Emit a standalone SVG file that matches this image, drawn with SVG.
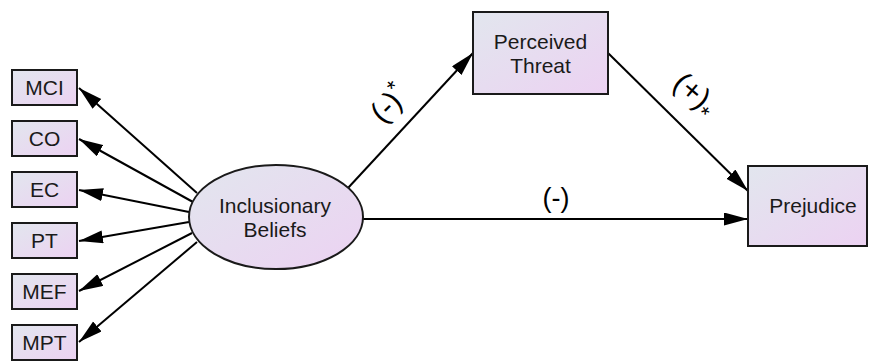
<svg xmlns="http://www.w3.org/2000/svg" width="869" height="361" viewBox="0 0 869 361">
  <style>
    .node { fill: url(#fillGrad); stroke: #1a1a1a; stroke-width: 2; }
    .label { font-family: "Liberation Sans", Arial, sans-serif; font-size: 21px; fill: #1a1a1a; text-anchor: middle; }
    .edge { stroke: #000; stroke-width: 2; fill: none; marker-end: url(#arrow); }
    .coef { font-family: "Liberation Sans", Arial, sans-serif; fill: #000; text-anchor: middle; }
  </style>
  <defs>
    <linearGradient id="fillGrad" x1="0" y1="0" x2="1" y2="1">
      <stop offset="0" stop-color="#e2e6ee"/>
      <stop offset="1" stop-color="#ecd2f2"/>
    </linearGradient>
    <marker id="arrow" markerUnits="userSpaceOnUse" markerWidth="26" markerHeight="14" refX="24" refY="6.5" orient="auto">
      <path d="M0,0 L24,6.5 L0,13 z" fill="#000"/>
    </marker>
  </defs>

  <rect width="869" height="361" fill="#fff"/>

  <!-- connectors -->
  <g id="connectors">
    <line class="edge" x1="197" y1="193" x2="79" y2="88"/>
    <line class="edge" x1="193" y1="202" x2="79" y2="139"/>
    <line class="edge" x1="189" y1="212" x2="79" y2="190"/>
    <line class="edge" x1="189" y1="222" x2="79" y2="241"/>
    <line class="edge" x1="192" y1="233" x2="79" y2="291"/>
    <line class="edge" x1="197" y1="242" x2="79" y2="342"/>
    <line class="edge" x1="348" y1="188" x2="473" y2="53"/>
    <line class="edge" x1="608" y1="53" x2="748" y2="191"/>
    <line class="edge" x1="363" y1="219" x2="748" y2="219"/>
  </g>

  <!-- path coefficients -->
  <g id="coefficients">
    <text class="coef" font-size="30" transform="translate(396,111) rotate(-45)">(-)<tspan font-size="22" dy="-11">*</tspan></text>
    <text class="coef" font-size="30" transform="translate(689,101) rotate(40)">(+)<tspan font-size="22" dy="8">*</tspan></text>
    <text class="coef" x="556" y="207" font-size="27">(-)</text>
  </g>

  <!-- indicator boxes -->
  <g id="mci"><rect class="node" x="12" y="70" width="65" height="35"/><text class="label" x="44.5" y="95">MCI</text></g>
  <g id="co"><rect class="node" x="12" y="121" width="65" height="35"/><text class="label" x="44.5" y="146">CO</text></g>
  <g id="ec"><rect class="node" x="12" y="172" width="65" height="35"/><text class="label" x="44.5" y="197">EC</text></g>
  <g id="pt"><rect class="node" x="12" y="223" width="65" height="35"/><text class="label" x="44.5" y="248">PT</text></g>
  <g id="mef"><rect class="node" x="12" y="274" width="65" height="35"/><text class="label" x="44.5" y="299">MEF</text></g>
  <g id="mpt"><rect class="node" x="12" y="325" width="65" height="35"/><text class="label" x="44.5" y="350">MPT</text></g>

  <!-- latent variable -->
  <g id="inclusionary-beliefs">
    <ellipse class="node" cx="276" cy="217" rx="87" ry="52"/>
    <text class="label" x="275" y="213">Inclusionary</text>
    <text class="label" x="275" y="237">Beliefs</text>
  </g>

  <g id="perceived-threat">
    <rect class="node" x="473" y="12" width="135" height="82"/>
    <text class="label" x="540.5" y="49">Perceived</text>
    <text class="label" x="540.5" y="73">Threat</text>
  </g>

  <g id="prejudice">
    <rect class="node" x="748" y="166" width="119" height="80"/>
    <text class="label" x="813" y="213">Prejudice</text>
  </g>
</svg>
